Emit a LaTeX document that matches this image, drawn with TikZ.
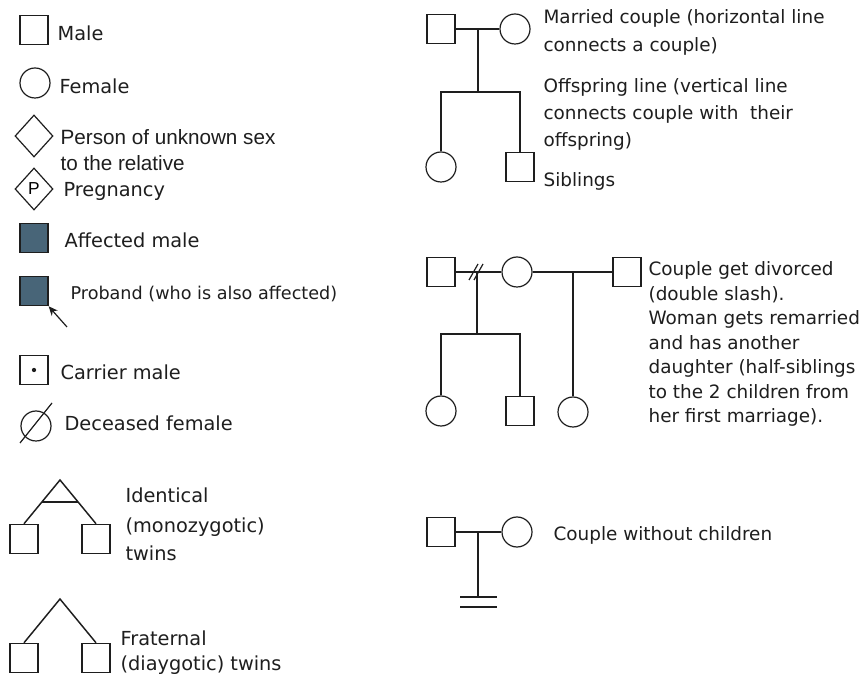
\documentclass[tikz,border=0pt]{standalone}
\usepackage{fontspec}
\setmainfont{DejaVu Sans}
\newfontfamily\arialf{Liberation Sans}
\usetikzlibrary{shapes.geometric,arrows.meta,calc}
\definecolor{affected}{RGB}{72,101,120}
\definecolor{ink}{RGB}{30,30,30}
\begin{document}
\begin{tikzpicture}[x=0.75pt,y=-0.75pt, line width=0.9pt, draw=ink,
  male/.style={draw=ink, rectangle, minimum width=21pt, minimum height=22pt, inner sep=0pt},
  female/.style={draw=ink, circle, minimum size=22.5pt, inner sep=0pt},
  unk/.style={draw=ink, diamond, minimum width=28.5pt, minimum height=31.5pt, inner sep=0pt},
  lab/.style={anchor=west, inner sep=0pt, text=ink, font=\fontsize{14.5}{17}\selectfont},
  rlab/.style={anchor=west, inner sep=0pt, text=ink, font=\fontsize{13.8}{16}\selectfont},
  alab/.style={anchor=west, inner sep=0pt, text=ink, font=\arialf\fontsize{15.5}{18}\selectfont},
  link/.style={draw=ink, line width=1.1pt}]
\useasboundingbox (0,0) rectangle (868,680);
\fill[white] (0,0) rectangle (868,680);

% ---------- left legend ----------
\node[male] (male) at (34,30) {};
\node[lab] (tmale) at (57,33) {Male};
\node[female] (fem) at (35,83) {};
\node[lab] (tfem) at (59,86) {Female};
\node[unk] (unk) at (34,136) {};
\node[alab] (tunk1) at (60,137) {Person of unknown sex};
\node[alab] (tunk2) at (60,163) {to the relative};
\node[unk] (preg) at (34,189) {\arialf\fontsize{13}{14}\selectfont P};
\node[lab] (tpreg) at (63,191) {Pregnancy};
\node[male, fill=affected] (aff) at (34,238) {};
\node[lab] (taff) at (64,240) {Affected male};
\node[male, fill=affected] (prob) at (34,291) {};
\coordinate (parrow) at (67,327);
\draw[link, line width=0.9pt, -{Stealth[length=7pt,width=6pt]}] (parrow) -- (prob.south east);
\node[lab, font=\fontsize{13.2}{15}\selectfont] (tprob) at (70,294) {Proband (who is also affected)};
\node[male] (car) at (34,370) {};
\fill[ink] (car.center) circle[radius=1.6pt];
\node[lab] (tcar) at (60,372) {Carrier male};
\node[female] (dec) at (36,426) {};
\coordinate (d1) at (20,443);
\coordinate (d2) at (52,403);
\draw[link, line width=0.9pt] (d1) -- (d2);
\node[lab] (tdec) at (64,423) {Deceased female};

% identical twins
\node[male] (t1) at (24,539) {};
\node[male] (t2) at (96,539) {};
\coordinate (apex1) at (60,480);
\draw[link] (t1.north) -- (apex1) -- (t2.north);
\draw[link] ($(apex1)!0.5!(t1.north)$) -- ($(apex1)!0.5!(t2.north)$);
\node[lab] (tid1) at (125,495) {Identical};
\node[lab] (tid2) at (125,527) {(monozygotic)};
\node[lab] (tid3) at (125,553) {twins};

% fraternal twins
\node[male] (t3) at (24,658) {};
\node[male] (t4) at (96,658) {};
\coordinate (apex2) at (60,599);
\draw[link] (t3.north) -- (apex2) -- (t4.north);
\node[lab] (tfr1) at (120,638) {Fraternal};
\node[lab] (tfr2) at (120,665) {(diaygotic) twins};

% ---------- right: married couple ----------
\node[male] (m1) at (441,29) {};
\node[female] (f1) at (515,29) {};
\draw[link] (m1) -- (f1);
\coordinate (o1) at (478,29);
\coordinate (o1b) at (478,92);
\node[female] (c1) at (441,167) {};
\node[male] (c2) at (520,167) {};
\draw[link] (o1) -- (o1b);
\draw[link] (c1.north) |- (o1b) -| (c2.north);
\node[rlab] (r1) at (543,18) {Married couple (horizontal line};
\node[rlab] (r2) at (543,46) {connects a couple)};
\node[rlab] (r3) at (543,87) {Offspring line (vertical line};
\node[rlab] (r4) at (543,114) {connects couple with\ \ their};
\node[rlab] (r5) at (543,141) {offspring)};
\node[rlab] (r6) at (543,181) {Siblings};

% ---------- divorce / remarriage ----------
\node[male] (m2) at (441,272) {};
\node[female] (f2) at (517,272) {};
\node[male] (m3) at (627,272) {};
\draw[link] (m2) -- (f2);
\draw[link] (f2) -- (m3);
\coordinate (s1a) at (469,280);
\coordinate (s1b) at (478,264);
\coordinate (s2a) at (474,280);
\coordinate (s2b) at (483,264);
\draw[link, line width=0.9pt] (s1a) -- (s1b);
\draw[link, line width=0.9pt] (s2a) -- (s2b);
\coordinate (o2) at (477,272);
\coordinate (o2b) at (477,334);
\node[female] (c3) at (441,411) {};
\node[male] (c4) at (520,411) {};
\draw[link] (o2) -- (o2b);
\draw[link] (c3.north) |- (o2b) -| (c4.north);
\coordinate (o3) at (573,272);
\node[female] (c5) at (573,412) {};
\draw[link] (o3) -- (c5.north);
\node[rlab] (q1) at (648,270) {Couple get divorced};
\node[rlab] (q2) at (648,295) {(double slash).};
\node[rlab] (q3) at (648,319) {Woman gets remarried};
\node[rlab] (q4) at (648,343) {and has another};
\node[rlab] (q5) at (648,368) {daughter (half-siblings};
\node[rlab] (q6) at (648,392) {to the 2 children from};
\node[rlab] (q7) at (648,417) {her first marriage).};

% ---------- couple without children ----------
\node[male] (m4) at (441,532) {};
\node[female] (f4) at (517,532) {};
\draw[link] (m4) -- (f4);
\coordinate (o4) at (478,532);
\coordinate (o4b) at (478,597);
\draw[link] (o4) -- (o4b);
\coordinate (b1a) at (460,597);
\coordinate (b1b) at (497,597);
\coordinate (b2a) at (460,607);
\coordinate (b2b) at (497,607);
\draw[link] (b1a) -- (b1b);
\draw[link] (b2a) -- (b2b);
\node[rlab] (w1) at (553,535) {Couple without children};
\end{tikzpicture}
\end{document}
